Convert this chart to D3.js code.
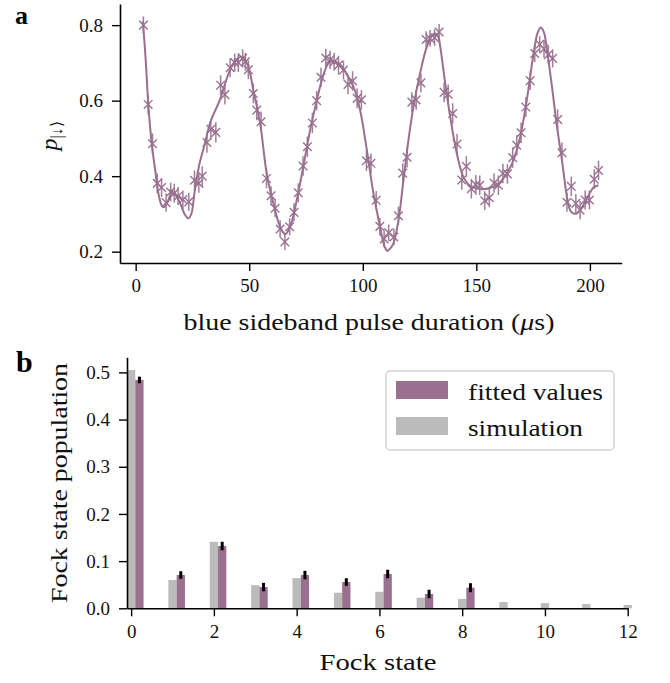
<!DOCTYPE html>
<html><head><meta charset="utf-8">
<script src="https://cdn.jsdelivr.net/npm/d3@7"></script>
<style>
html,body{margin:0;padding:0;background:#fff;}
svg text{font-family:"Liberation Serif","Times New Roman",Times,serif !important;}
</style></head>
<body><svg id="c" width="670" height="683"></svg>
<script>
// ---- panel a data ----
const pulseTimes = [3.4,5.5,7.4,9.5,11.4,13.4,15.4,17.0,18.7,20.8,23.4,25.9,27.8,29.3,31.4,33.1,35.3,37.4,39.3,41.6,43.6,45.2,47.1,48.3,49.6,51.8,53.3,55.2,57.6,59.6,61.4,63.6,65.7,67.8,69.7,71.6,73.7,75.6,77.8,79.7,81.6,83.7,85.6,87.4,89.3,91.5,93.5,95.5,97.5,99.4,101.6,103.6,105.9,107.5,109.4,111.4,113.7,115.7,117.6,119.5,121.6,123.5,125.6,127.9,129.6,131.6,133.6,135.8,137.6,139.6,141.5,143.6,145.6,147.8,149.8,151.5,153.7,155.7,157.8,159.7,161.7,163.7,166.0,167.8,169.7,171.8,173.7,175.7,177.9,179.8,181.7,183.6,185.8,187.7,189.9,191.8,193.8,195.7,197.9,199.8,201.9,203.8];
const pDown = [0.800,0.590,0.486,0.381,0.370,0.330,0.358,0.355,0.347,0.338,0.332,0.389,0.381,0.400,0.489,0.524,0.516,0.641,0.616,0.687,0.701,0.701,0.712,0.703,0.682,0.619,0.575,0.544,0.394,0.348,0.315,0.260,0.226,0.266,0.304,0.356,0.427,0.478,0.541,0.600,0.662,0.713,0.708,0.703,0.694,0.681,0.643,0.652,0.606,0.602,0.441,0.434,0.336,0.267,0.234,0.250,0.239,0.295,0.408,0.450,0.596,0.602,0.647,0.762,0.765,0.767,0.782,0.622,0.617,0.566,0.485,0.390,0.426,0.367,0.377,0.376,0.335,0.343,0.382,0.376,0.407,0.406,0.449,0.482,0.515,0.583,0.653,0.725,0.749,0.737,0.722,0.712,0.550,0.462,0.331,0.373,0.328,0.310,0.337,0.337,0.392,0.415];
const pDownErr = [0.023,0.026,0.027,0.026,0.025,0.024,0.025,0.025,0.024,0.024,0.024,0.026,0.025,0.026,0.027,0.027,0.027,0.026,0.026,0.025,0.024,0.025,0.024,0.024,0.025,0.026,0.027,0.027,0.026,0.025,0.024,0.023,0.022,0.023,0.024,0.025,0.026,0.027,0.027,0.026,0.025,0.024,0.024,0.024,0.025,0.025,0.026,0.026,0.026,0.026,0.027,0.026,0.025,0.023,0.022,0.022,0.022,0.024,0.026,0.027,0.026,0.026,0.025,0.022,0.022,0.022,0.021,0.026,0.026,0.027,0.027,0.026,0.027,0.026,0.026,0.026,0.025,0.025,0.026,0.026,0.026,0.026,0.027,0.027,0.027,0.026,0.025,0.023,0.022,0.023,0.024,0.024,0.027,0.027,0.025,0.026,0.025,0.024,0.025,0.025,0.026,0.026];
const fitTimes = [3.2,4.5,5.5,7.0,8.5,10.0,11.5,12.5,14.0,15.8,17.5,19.5,21.5,23.2,24.5,26.0,28.0,30.5,33.0,37.0,41.5,44.5,47.0,49.6,51.8,54.8,57.7,60.6,63.6,65.8,68.0,70.9,73.8,76.8,79.7,82.6,85.0,87.0,89.5,91.5,93.5,95.9,98.8,101.8,104.7,107.6,109.5,110.8,112.0,113.5,115.7,117.9,120.1,122.3,125.2,128.2,130.5,131.9,133.2,134.1,136.3,138.5,141.4,144.3,147.3,150.5,153.9,156.5,159.0,163.4,166.3,169.3,172.2,175.2,177.0,178.4,179.8,181.1,183.3,185.5,187.7,189.9,191.3,192.8,194.3,195.7,198.7,201.6,203.8];
const fitValues = [0.810,0.700,0.595,0.490,0.420,0.355,0.322,0.318,0.330,0.355,0.350,0.330,0.300,0.288,0.300,0.360,0.430,0.487,0.545,0.601,0.681,0.710,0.716,0.690,0.628,0.540,0.407,0.328,0.266,0.246,0.266,0.336,0.425,0.522,0.600,0.667,0.700,0.705,0.698,0.685,0.663,0.637,0.575,0.469,0.354,0.266,0.215,0.202,0.208,0.222,0.283,0.389,0.495,0.584,0.672,0.743,0.773,0.778,0.770,0.743,0.646,0.557,0.460,0.398,0.374,0.367,0.366,0.370,0.376,0.407,0.442,0.504,0.601,0.725,0.780,0.794,0.780,0.734,0.637,0.531,0.442,0.345,0.310,0.301,0.302,0.310,0.341,0.370,0.376];
const xTicksA = [0,50,100,150,200];
const yTicksA = [0.2,0.4,0.6,0.8];

// ---- panel b data ----
const fockStates = [0,1,2,3,4,5,6,7,8,9,10,11,12];
const simulation = [0.505,0.060,0.141,0.049,0.064,0.033,0.035,0.0225,0.020,0.0134,0.011,0.009,0.007];
const fittedStates = [0,1,2,3,4,5,6,7,8];
const fittedValues = [0.484,0.0705,0.132,0.045,0.0705,0.0557,0.0727,0.0303,0.0437];
const fittedErr = [0.007,0.008,0.009,0.009,0.009,0.008,0.009,0.009,0.0095];
const xTicksB = [0,2,4,6,8,10,12];
const yTicksB = [0,0.1,0.2,0.3,0.4,0.5];
const legendLabels = ["fitted values","simulation"];

const PURPLE = "#99708f", GRAY = "#bbbbbb";
const FONT = '"Liberation Serif","Times New Roman",Times,serif';
const svg = d3.select("#c").attr("font-family",FONT);

function styleAxis(g){
  g.attr("font-family",FONT);
  g.selectAll("path.domain").attr("stroke","#000").attr("stroke-width",1.6);
  g.selectAll(".tick line").attr("stroke","#000").attr("stroke-width",1.4);
  g.selectAll(".tick text").attr("fill","#111").attr("font-family",FONT).attr("font-size",19);
  g.attr("font-size",19);
}

// ===== Panel a =====
const xA = d3.scaleLinear().domain([-6.9,214]).range([120,621.7]);
const yA = d3.scaleLinear().domain([0.17,0.856]).range([263,4]);

const gxA = svg.append("g").attr("transform","translate(0,263)")
  .call(d3.axisBottom(xA).tickValues(xTicksA).tickSize(8).tickSizeOuter(0).tickPadding(8).tickFormat(d3.format("d")));
styleAxis(gxA);
const gyA = svg.append("g").attr("transform","translate(120,0)")
  .call(d3.axisLeft(yA).tickValues(yTicksA).tickSize(8).tickSizeOuter(0).tickPadding(9).tickFormat(d3.format(".1f")));
styleAxis(gyA);

const line = d3.line().x((d,i)=>xA(fitTimes[i])).y((d,i)=>yA(fitValues[i])).curve(d3.curveCatmullRom.alpha(0.5));
svg.append("path").datum(fitValues).attr("d",line).attr("fill","none").attr("stroke",PURPLE).attr("stroke-width",2);

const pts = svg.append("g");
pulseTimes.forEach((t,i)=>{
  const cx = xA(t), cy = yA(pDown[i]);
  pts.append("line").attr("x1",cx).attr("x2",cx).attr("y1",yA(pDown[i]-pDownErr[i])).attr("y2",yA(pDown[i]+pDownErr[i]))
    .attr("stroke",PURPLE).attr("stroke-width",1.5).attr("opacity",0.9);
  const s=4.3;
  pts.append("path").attr("d",`M${cx-s},${cy-s}L${cx+s},${cy+s}M${cx-s},${cy+s}L${cx+s},${cy-s}`)
    .attr("stroke",PURPLE).attr("stroke-width",1.4).attr("fill","none");
});

svg.append("text").attr("x",15).attr("y",24).attr("font-weight","bold").attr("font-size",26).text("a");
svg.append("text").attr("x",369).attr("y",330).attr("text-anchor","middle").attr("font-size",24)
  .attr("textLength",371).attr("lengthAdjust","spacingAndGlyphs").attr("fill","#111")
  .html('blue sideband pulse duration (<tspan font-style="italic">μ</tspan>s)');
const ylA = svg.append("text").attr("transform","translate(57,136) rotate(-90)").attr("text-anchor","middle").attr("fill","#111");
ylA.append("tspan").attr("font-style","italic").attr("font-size",24).text("p");
ylA.append("tspan").attr("font-size",16).attr("dy",5).text("|↓⟩");

// ===== Panel b =====
const xB = d3.scaleLinear().domain([-0.1,12]).range([127,627.7]);
const yB = d3.scaleLinear().domain([0,0.532]).range([608.3,357.3]);
const bw = xB(0.2)-xB(0);

svg.append("g").selectAll("rect").data(simulation).join("rect")
  .attr("x",(d,i)=>xB(fockStates[i]-0.1)).attr("width",bw)
  .attr("y",d=>yB(d)).attr("height",d=>yB(0)-yB(d)).attr("fill",GRAY);
svg.append("g").selectAll("rect").data(fittedValues).join("rect")
  .attr("x",(d,i)=>xB(fittedStates[i]+0.1)).attr("width",bw)
  .attr("y",d=>yB(d)).attr("height",d=>yB(0)-yB(d)).attr("fill",PURPLE);
svg.append("g").selectAll("line").data(fittedValues).join("line")
  .attr("x1",(d,i)=>xB(fittedStates[i]+0.2)).attr("x2",(d,i)=>xB(fittedStates[i]+0.2))
  .attr("y1",(d,i)=>yB(d-fittedErr[i])).attr("y2",(d,i)=>yB(d+fittedErr[i]))
  .attr("stroke","#000").attr("stroke-width",3);

const gxB = svg.append("g").attr("transform","translate(0,608.3)")
  .call(d3.axisBottom(xB).tickValues(xTicksB).tickSize(8).tickSizeOuter(0).tickPadding(8).tickFormat(d3.format("d")));
styleAxis(gxB);
const gyB = svg.append("g").attr("transform","translate(127,0)")
  .call(d3.axisLeft(yB).tickValues(yTicksB).tickSize(8).tickSizeOuter(0).tickPadding(9).tickFormat(d3.format(".1f")));
styleAxis(gyB);

svg.append("text").attr("x",16).attr("y",371.5).attr("font-weight","bold").attr("font-size",30).text("b");
svg.append("text").attr("x",378).attr("y",670).attr("text-anchor","middle").attr("font-size",24)
  .attr("textLength",117).attr("lengthAdjust","spacingAndGlyphs").attr("fill","#111").text("Fock state");
svg.append("text").attr("transform","translate(67,483) rotate(-90)").attr("text-anchor","middle").attr("font-size",24)
  .attr("textLength",240).attr("lengthAdjust","spacingAndGlyphs").attr("fill","#111").text("Fock state population");

// legend
const lg = svg.append("g");
lg.append("rect").attr("x",386).attr("y",371).attr("width",228).attr("height",79).attr("rx",4)
  .attr("fill","#fff").attr("fill-opacity",0.85).attr("stroke","#d5d5d5").attr("stroke-width",1.5);
const legColors = [PURPLE, GRAY];
legendLabels.forEach((lab,i)=>{
  const yy = 381 + i*36;
  lg.append("rect").attr("x",396).attr("y",yy).attr("width",52).attr("height",18).attr("fill",legColors[i]);
  lg.append("text").attr("x",468).attr("y",yy+19).attr("font-size",24).attr("fill","#111")
    .attr("textLength", i===0?135:115).attr("lengthAdjust","spacingAndGlyphs").text(lab);
});
</script></body></html>
